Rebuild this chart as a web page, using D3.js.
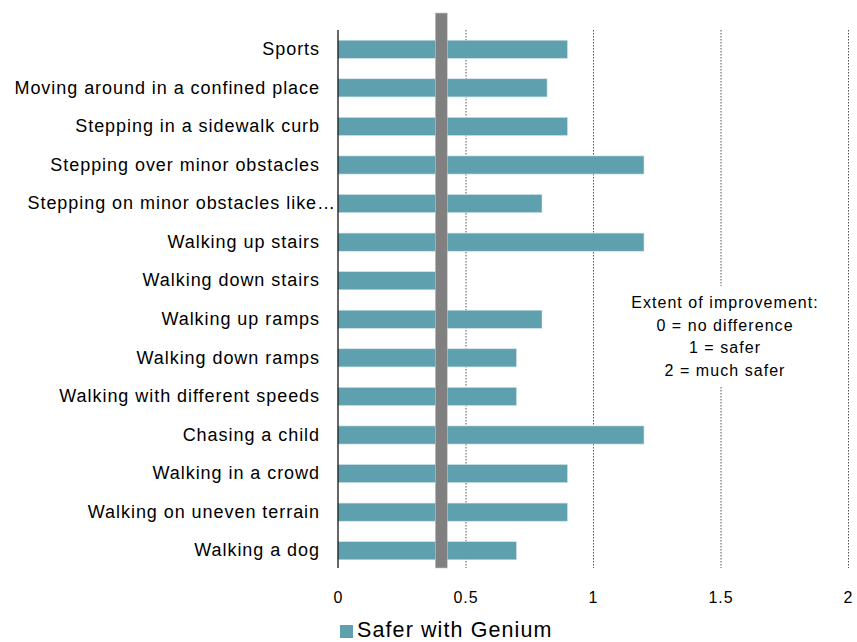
<!DOCTYPE html>
<html><head><meta charset="utf-8">
<script src="https://cdn.jsdelivr.net/npm/d3@7"></script>
<style>body{margin:0;background:#fff}svg{display:block}text{font-family:"Liberation Sans",Arial,sans-serif;fill:#000}</style>
</head><body><svg id="c" width="857" height="642"></svg>
<script>
const categories = ["Sports","Moving around in a confined place","Stepping in a sidewalk curb","Stepping over minor obstacles","Stepping on minor obstacles like…","Walking up stairs","Walking down stairs","Walking up ramps","Walking down ramps","Walking with different speeds","Chasing a child","Walking in a crowd","Walking on uneven terrain","Walking a dog"];
const values = [0.9,0.82,0.9,1.2,0.8,1.2,0.4,0.8,0.7,0.7,1.2,0.9,0.9,0.7];
const tickValues = [0,0.5,1,1.5,2];
const tickLabels = ["0","0.5","1","1.5","2"];
const referenceValue = [0.405];
const seriesName = "Safer with Genium";
const noteLines = ["Extent of improvement:","0 = no difference","1 = safer","2 = much safer"];

const svg = d3.select("#c");
const pLeft = 338, pRight = 848, pTop = 30, pBottom = 570;
const x = d3.scaleLinear().domain([0,2]).range([pLeft,pRight]);
const y = d3.scaleBand().domain(categories).range([pTop,pBottom]).paddingInner(0.53).paddingOuter(0.265);

// gridlines
svg.append("g").selectAll("line").data(tickValues.slice(1)).join("line")
  .attr("x1",d=>x(d)+0.5).attr("x2",d=>x(d)+0.5).attr("y1",pTop).attr("y2",pBottom-2)
  .attr("stroke","#555").attr("stroke-width",1).attr("stroke-dasharray","1.5,1.5");

// bars
svg.append("g").selectAll("rect").data(categories).join("rect")
  .attr("x",x(0)).attr("y",d=>y(d)).attr("height",y.bandwidth())
  .attr("width",(d,i)=>x(values[i])-x(0))
  .attr("fill","#5ea0ae").attr("stroke","#cfe3e7").attr("stroke-width",0.6);

// axis line
svg.append("line").attr("x1",x(0)).attr("x2",x(0)).attr("y1",pTop).attr("y2",pBottom-2)
  .attr("stroke","#000").attr("stroke-width",1.2);

// reference line
svg.append("g").selectAll("rect").data(referenceValue).join("rect")
  .attr("x",d=>x(d)-6).attr("width",12).attr("y",13).attr("height",pBottom-2-13)
  .attr("fill","#808080").attr("stroke","#c8c8c8").attr("stroke-width",0.6);

// category labels
const yAxis = d3.axisLeft(y).tickSize(0).tickPadding(18);
const ya = svg.append("g").attr("transform",`translate(${x(0)},0)`).call(yAxis);
ya.select(".domain").remove();
ya.selectAll("text").style("font-size","18px").style("letter-spacing","0.95px")
  .style("font-family","'Liberation Sans',Arial,sans-serif").attr("fill","#000")
  .attr("dx", d => d.endsWith("…") ? 16 : 0);

// x axis
const xAxis = d3.axisBottom(x).tickValues(tickValues).tickFormat((d,i)=>tickLabels[i]).tickSize(0).tickPadding(22);
const xa = svg.append("g").attr("transform",`translate(0,${pBottom})`).call(xAxis);
xa.select(".domain").remove();
xa.selectAll("text").style("font-size","16px").style("letter-spacing","1px")
  .style("font-family","'Liberation Sans',Arial,sans-serif").attr("fill","#000");

// note
const nx = 725;
svg.append("rect").attr("x",nx-100).attr("y",286).attr("width",200).attr("height",100).attr("fill","#fff");
svg.append("g").selectAll("text").data(noteLines).join("text")
  .attr("x",nx).attr("y",(d,i)=>308+i*22.5).attr("text-anchor","middle")
  .style("font-size","16px").style("letter-spacing","1.05px").text(d=>d);

// legend
svg.append("rect").attr("x",340).attr("y",625).attr("width",13).attr("height",13).attr("fill","#5ea0ae");
svg.append("text").attr("x",357).attr("y",637).style("font-size","21.5px").style("letter-spacing","1.1px").text(seriesName);
</script></body></html>
